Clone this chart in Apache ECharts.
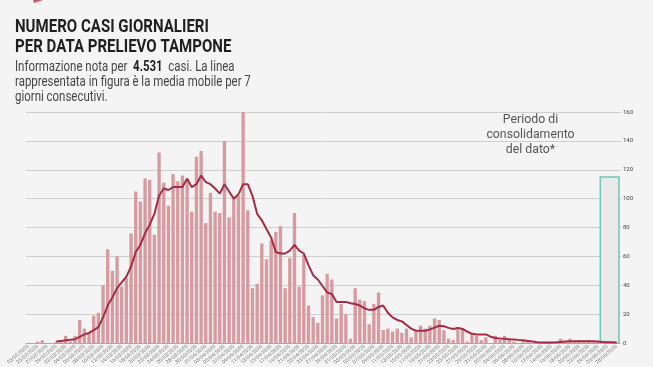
<!DOCTYPE html>
<html>
<head>
<meta charset="utf-8">
<script src="https://cdn.jsdelivr.net/npm/echarts@6/dist/echarts.min.js"></script>
<style>
html,body{margin:0;padding:0;background:#f4f4f4;}
#c{width:653px;height:367px;}
</style>
</head>
<body>
<div id="c"></div>
<script>
var dates = [
"23/02/2020","24/02/2020","25/02/2020","26/02/2020","27/02/2020","28/02/2020","29/02/2020",
"01/03/2020","02/03/2020","03/03/2020","04/03/2020","05/03/2020","06/03/2020","07/03/2020","08/03/2020","09/03/2020","10/03/2020",
"11/03/2020","12/03/2020","13/03/2020","14/03/2020","15/03/2020","16/03/2020","17/03/2020","18/03/2020","19/03/2020","20/03/2020",
"21/03/2020","22/03/2020","23/03/2020","24/03/2020","25/03/2020","26/03/2020","27/03/2020","28/03/2020","29/03/2020","30/03/2020","31/03/2020",
"01/04/2020","02/04/2020","03/04/2020","04/04/2020","05/04/2020","06/04/2020","07/04/2020","08/04/2020","09/04/2020","10/04/2020",
"11/04/2020","12/04/2020","13/04/2020","14/04/2020","15/04/2020","16/04/2020","17/04/2020","18/04/2020","19/04/2020","20/04/2020",
"21/04/2020","22/04/2020","23/04/2020","24/04/2020","25/04/2020","26/04/2020","27/04/2020","28/04/2020","29/04/2020","30/04/2020",
"01/05/2020","02/05/2020","03/05/2020","04/05/2020","05/05/2020","06/05/2020","07/05/2020","08/05/2020","09/05/2020","10/05/2020",
"11/05/2020","12/05/2020","13/05/2020","14/05/2020","15/05/2020","16/05/2020","17/05/2020","18/05/2020","19/05/2020","20/05/2020",
"21/05/2020","22/05/2020","23/05/2020","24/05/2020","25/05/2020","26/05/2020","27/05/2020","28/05/2020","29/05/2020","30/05/2020","31/05/2020",
"01/06/2020","02/06/2020","03/06/2020","04/06/2020","05/06/2020","06/06/2020","07/06/2020","08/06/2020","09/06/2020","10/06/2020",
"11/06/2020","12/06/2020","13/06/2020","14/06/2020","15/06/2020","16/06/2020","17/06/2020","18/06/2020","19/06/2020","20/06/2020",
"21/06/2020","22/06/2020","23/06/2020","24/06/2020","25/06/2020","26/06/2020","27/06/2020","28/06/2020"
];

var dailyCases = [
0,0,1,2,0,0,1,2,5,1,
5,16,10,7,19,21,40,65,50,60,
39,45,76,105,98,114,113,75,132,111,
95,117,112,116,114,91,129,133,83,104,
91,90,140,87,100,102,160,92,38,41,
69,58,71,77,81,38,59,90,39,61,
26,18,14,33,48,44,17,27,20,3,
38,30,29,13,27,35,9,10,8,10,
7,10,4,8,12,10,12,17,16,9,
3,2,11,10,1,6,5,2,4,0,
5,2,5,3,1,0,2,1,0,0,
0,0,1,0,3,1,3,1,2,1,
2,1,1,0,1,0,0
];

var movingAvg = [
null,null,null,null,null,null,1,1.5,2,2.3,
2.7,4.3,6,7,9,11,17.8,26,31.5,38,
42,46,53,63,68,76,82,89.5,102,107,
106,108,108,108,113.8,108,110,116,111.5,110,
107,103.5,110,105,100,103,110,110,102,89.5,
85,79,73,63,62,62,64,68,64,62,
54,47,44,39.5,35,34,28.5,28.5,28.5,27.6,
27,26,24,23,23,25,26,21,17.8,16,
15,12.5,10,8.5,8.5,8.5,9.5,10.7,12,11.6,
10.5,9.8,10.5,9.8,8,6.4,6,6,6,4.4,
3.5,3.2,3,2.7,2.5,2.2,2,1.5,1,0.5,
0.3,0.3,0.3,0.5,0.8,1,1.2,1.2,1.3,1.3,
1.3,1.2,1,0.8,0.6,0.5,0.3
];

// consolidation period: first and last category index, height of box
var consolidation = [[123, 126, 115]];
var yTicks = {min: 0, max: 160, interval: 20};

var chart = echarts.init(document.getElementById('c'), null, {renderer: 'canvas'});
chart.setOption({
  backgroundColor: '#f4f4f4',
  animation: false,
  grid: {left: 26, right: 34, top: 112, bottom: 21},
  xAxis: {
    type: 'category',
    data: dates,
    axisLine: {lineStyle: {color: '#aaaaaa', width: 1}},
    axisTick: {show: false},
    axisLabel: {interval: 1, rotate: 40, fontSize: 5, color: '#7a7a7a', margin: 3, fontFamily: 'Roboto'}
  },
  yAxis: {
    type: 'value',
    position: 'right',
    min: yTicks.min, max: yTicks.max, interval: yTicks.interval,
    axisLine: {show: false},
    axisTick: {show: true, length: 2, lineStyle: {color: '#cccccc'}},
    axisLabel: {fontSize: 6, color: '#444', margin: 4, fontFamily: 'Roboto'},
    splitLine: {lineStyle: {color: '#cfcfcf', width: 1}}
  },
  series: [
    {
      type: 'bar',
      data: dailyCases,
      barCategoryGap: '28%',
      itemStyle: {color: '#d69ba1'},
      z: 2
    },
    {
      type: 'custom',
      data: consolidation,
      z: 1,
      renderItem: function (params, api) {
        var s = api.coord([api.value(0), api.value(2)]);
        var e = api.coord([api.value(1), 0]);
        var w = api.size([1, 0])[0];
        return {
          type: 'rect',
          shape: {x: s[0] - w / 2, y: s[1], width: e[0] - s[0] + w, height: e[1] - s[1]},
          style: {fill: '#e9e9e9', stroke: '#6fc6ba', lineWidth: 1.5}
        };
      }
    },
    {
      type: 'line',
      data: movingAvg,
      symbol: 'none',
      smooth: false,
      lineStyle: {color: '#a52c45', width: 2},
      z: 3
    }
  ],
  graphic: [
    {type: 'polygon', shape: {points: [[33, 0], [43, 0], [34, 3]]}, style: {fill: '#d0556a'}},
    {
      type: 'text', x: 15, y: 18, scaleX: 0.86,
      style: {text: 'NUMERO CASI GIORNALIERI\nPER DATA PRELIEVO TAMPONE', font: 'bold 17.5px Roboto', fill: '#1f1f1f', lineHeight: 19.5, verticalAlign: 'top'}
    },
    {
      type: 'text', x: 15, y: 59.5, scaleX: 0.83,
      style: {
        text: 'Informazione nota per  {b|4.531}  casi. La linea\nrappresentata in figura è la media mobile per 7\ngiorni consecutivi.',
        font: '13.8px Roboto', fill: '#444', lineHeight: 15.4, verticalAlign: 'top',
        rich: {b: {font: 'bold 13.8px Roboto', fill: '#1f1f1f', lineHeight: 15.4}}
      }
    },
    {
      type: 'text', x: 530.5, y: 112,
      style: {text: 'Periodo di\nconsolidamento\ndel dato*', font: '12.3px Roboto', fill: '#555', lineHeight: 15, align: 'center', verticalAlign: 'top'}
    }
  ]
});
</script>
</body>
</html>
